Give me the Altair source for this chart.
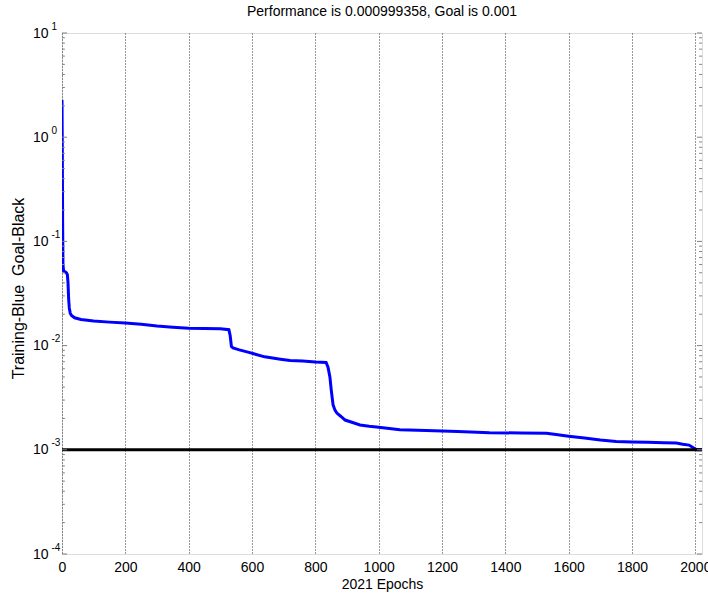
import altair as alt
import pandas as pd

epochs = [0, 1, 2, 3, 5, 10, 14, 17, 19, 21, 23, 26, 30, 40, 60, 100, 150, 200, 250, 300,
          350, 400, 450, 500, 527, 531, 535, 540, 560, 590, 640, 690, 720, 760, 800, 834,
          840, 846, 850, 856, 862, 868, 880, 894, 920, 941, 970, 1000, 1067, 1150, 1250,
          1350, 1450, 1530, 1560, 1600, 1650, 1700, 1750, 1800, 1850, 1900, 1940, 1960,
          1980, 1995, 2005, 2021]
performance = [2.27, 0.7, 0.15, 0.06, 0.052, 0.051, 0.050, 0.048, 0.040, 0.028, 0.023, 0.0205,
               0.0195, 0.0185, 0.0178, 0.0172, 0.0168, 0.0165, 0.016, 0.0154, 0.0150, 0.0147,
               0.0146, 0.0145, 0.0142, 0.0125, 0.0098, 0.0095, 0.0091, 0.0086, 0.0078, 0.0074,
               0.0072, 0.0071, 0.00697, 0.0069, 0.0062, 0.0050, 0.0038, 0.0027, 0.0024,
               0.00225, 0.0021, 0.00193, 0.00182, 0.00173, 0.00168, 0.00165, 0.00156,
               0.00153, 0.00150, 0.00146, 0.00145, 0.00144, 0.0014, 0.00135, 0.0013, 0.00124,
               0.0012, 0.00119, 0.00118, 0.00117, 0.00116, 0.00113, 0.00111, 0.00104,
               0.00100, 0.000999358]
goal = 0.001
total_epochs = 2021
x_ticks = [0, 200, 400, 600, 800, 1000, 1200, 1400, 1600, 1800, 2000]
y_major = [1e-4, 1e-3, 1e-2, 1e-1, 1e0, 1e1]
y_minor = [k * 10.0 ** d for d in range(-4, 1) for k in range(2, 10)]

FONT = "Liberation Sans"
df = pd.DataFrame({"epoch": epochs, "perf": performance})
goal_df = pd.DataFrame({"x0": [0], "x1": [total_epochs], "y": [goal]})

xscale = alt.Scale(domain=[0, total_epochs], nice=False, zero=False)
yscale = alt.Scale(type="log", domain=[1e-4, 10], nice=False)

x_axis = alt.Axis(values=x_ticks, format="d", labelFlush=False, labelOverlap=False,
                  grid=True, gridDash=[1, 2], gridColor="#333333",
                  gridWidth=1, ticks=False, domain=False, labelFontSize=14,
                  labelFont=FONT, labelColor="black", labelPadding=6, title="2021 Epochs",
                  titleFont=FONT, titleFontSize=14, titleFontWeight="normal",
                  titleColor="black", titlePadding=3)

base_y_axis = alt.Axis(values=y_major, orient="left", labelExpr="'10'", grid=False,
                       ticks=False, domain=False, labelFontSize=14, labelFont=FONT,
                       labelColor="black", labelPadding=14, labelBaseline="middle",
                       title="Training-Blue\u00a0 Goal-Black", titleFont=FONT,
                       titleFontSize=16, titleFontWeight="normal", titleColor="black",
                       titlePadding=6, titleY=255)

exp_y_axis = alt.Axis(values=y_major, orient="left",
                      labelExpr="'' + round(log(datum.value) / LN10)",
                      grid=False, ticks=False, domain=False, labelFontSize=10,
                      labelFont=FONT, labelColor="black", labelAlign="left",
                      labelPadding=11, labelOffset=-7, labelBaseline="middle", title=None)

line = alt.Chart(df).mark_line(color="#0000ff", strokeWidth=3, clip=True).encode(
    x=alt.X("epoch:Q", scale=xscale, axis=x_axis),
    y=alt.Y("perf:Q", scale=yscale, axis=base_y_axis),
)

goal_rule = alt.Chart(goal_df).mark_rule(color="black", strokeWidth=3).encode(
    x=alt.X("x0:Q", scale=xscale),
    x2="x1:Q",
    y=alt.Y("y:Q", scale=yscale, axis=exp_y_axis),
)

tick_rows = []
for v in y_major:
    tick_rows.append({"y": v, "a": 0, "b": 16})
    tick_rows.append({"y": v, "a": total_epochs, "b": total_epochs - 16})
for v in y_minor:
    tick_rows.append({"y": v, "a": 0, "b": 9})
    tick_rows.append({"y": v, "a": total_epochs, "b": total_epochs - 9})
ticks_df = pd.DataFrame(tick_rows)

ticks = alt.Chart(ticks_df).mark_rule(color="#808080", strokeWidth=1).encode(
    x=alt.X("a:Q", scale=xscale),
    x2="b:Q",
    y=alt.Y("y:Q", scale=yscale, axis=None),
)

chart = alt.layer(line, goal_rule, ticks).resolve_axis(y="independent").properties(
    width=640, height=521,
    title=alt.TitleParams("Performance is 0.000999358, Goal is 0.001", font=FONT,
                          fontSize=14, fontWeight="normal", color="black", offset=2),
    autosize=alt.AutoSizeParams(type="none"),
    padding={"left": 62, "top": 33, "right": 6, "bottom": 40},
).configure_view(stroke="#808080", strokeWidth=1).configure(background="white")

chart.save("out.html", embed_options={"renderer": "svg", "actions": False})
